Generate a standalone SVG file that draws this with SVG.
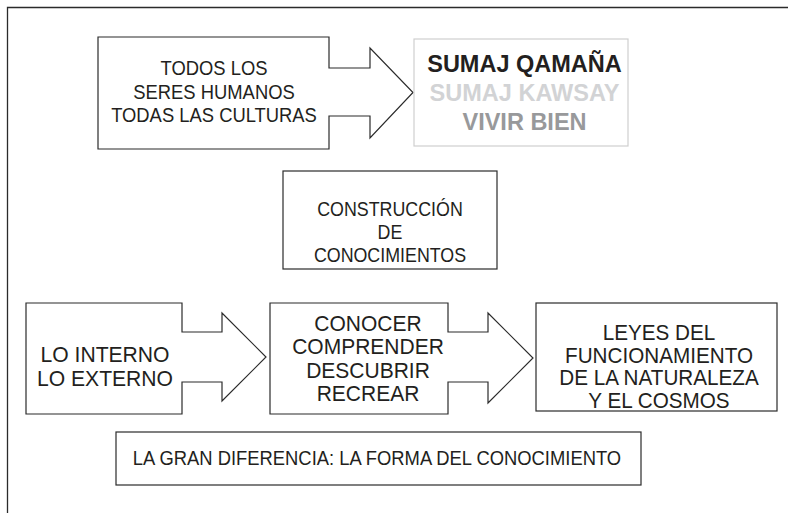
<svg xmlns="http://www.w3.org/2000/svg" width="788" height="513" viewBox="0 0 788 513">
<style>
.shape{fill:#fff;stroke:#2b2b2b;stroke-width:1.2}
.light{fill:#fff;stroke:#cfcfcf;stroke-width:1.2}
.frame{fill:none;stroke:#2b2b2b;stroke-width:1.3}
text{font-family:"Liberation Sans",Arial,Helvetica,sans-serif;fill:#231f20;text-anchor:middle}
.t21{font-size:21px}
.t22{font-size:22px}
.t20{font-size:20.6px}
.b{font-size:24.5px;font-weight:bold}
</style>
<rect width="788" height="513" fill="#fff"/>
<path class="frame" d="M7.5,513 V7.5 H788"/>
<g id="connectors"/>
<g id="todos">
<path class="shape" d="M98,37 H329 V68 H370 V48 L413,92.5 L370,138 V116 H329 V149 H98 Z"/>
<g transform="translate(214 0) scale(0.876 1)">
<text class="t21" x="0" y="75.5">TODOS LOS</text>
<text class="t21" x="0" y="99">SERES HUMANOS</text>
<text class="t21" x="0" y="122.5">TODAS LAS CULTURAS</text>
</g>
</g>
<g id="sumaj">
<rect class="light" x="414" y="39" width="214" height="107"/>
<g transform="translate(524.5 0) scale(0.96 1)">
<text class="b" x="0" y="72">SUMAJ QAMAÑA</text>
<text class="b" x="0" y="101" style="fill:#d2d3d5">SUMAJ KAWSAY</text>
<text class="b" x="0" y="130" style="fill:#98999b">VIVIR BIEN</text>
</g>
</g>
<g id="construccion">
<rect class="shape" x="283" y="171" width="214" height="98"/>
<g transform="translate(390 0) scale(0.85 1)">
<text class="t21" x="0" y="216.5">CONSTRUCCIÓN</text>
<text class="t21" x="0" y="239.5">DE</text>
<text class="t21" x="0" y="262.5">CONOCIMIENTOS</text>
</g>
</g>
<g id="interno">
<path class="shape" d="M26,303 H182 V332 H222 V313 L266,357 L222,401 V382 H182 V414 H26 Z"/>
<g transform="translate(105 0) scale(0.96 1)">
<text class="t22" x="0" y="362.5">LO INTERNO</text>
<text class="t22" x="0" y="386">LO EXTERNO</text>
</g>
</g>
<g id="conocer">
<path class="shape" d="M270,303 H448 V332 H488 V313 L533,358 L488,403 V382 H448 V414 H270 Z"/>
<g transform="translate(368 0) scale(0.955 1)">
<text class="t22" x="0" y="331">CONOCER</text>
<text class="t22" x="0" y="354.5">COMPRENDER</text>
<text class="t22" x="0" y="378">DESCUBRIR</text>
<text class="t22" x="0" y="401.5">RECREAR</text>
</g>
</g>
<g id="leyes">
<rect class="shape" x="536" y="303" width="241" height="108"/>
<g transform="translate(659 0) scale(0.94 1)">
<text class="t22" x="0" y="340.5">LEYES DEL</text>
<text class="t22" x="0" y="363">FUNCIONAMIENTO</text>
<text class="t22" x="0" y="385.5">DE LA NATURALEZA</text>
<text class="t22" x="0" y="408">Y EL COSMOS</text>
</g>
</g>
<g id="diferencia">
<rect class="shape" x="116" y="432" width="525" height="53"/>
<g transform="translate(377 0) scale(0.893 1)">
<text class="t20" x="0" y="465.5">LA GRAN DIFERENCIA: LA FORMA DEL CONOCIMIENTO</text>
</g>
</g>
</svg>
